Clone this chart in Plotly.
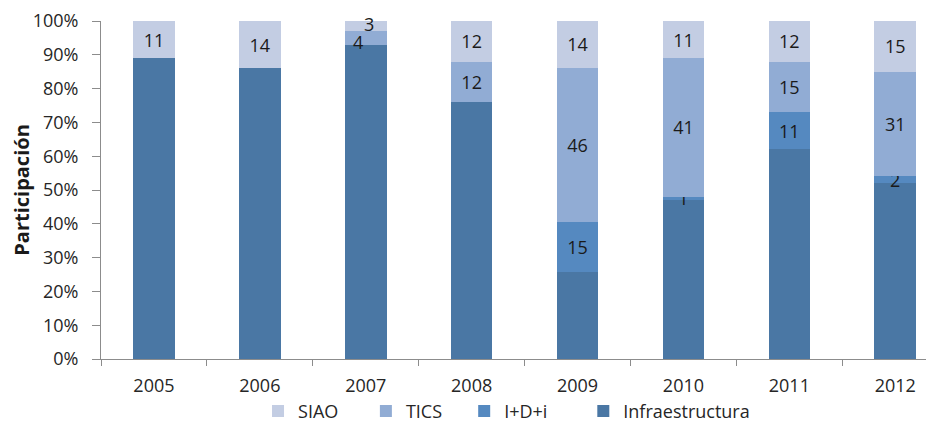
import plotly.graph_objects as go

years = ['2005', '2006', '2007', '2008', '2009', '2010', '2011', '2012']
infraestructura = [89, 86, 93, 76, 26, 47, 62, 52]
idi = [0, 0, 0, 0, 15, 1, 11, 2]
tics = [0, 0, 4, 12, 46, 41, 15, 31]
siao = [11, 14, 3, 12, 14, 11, 12, 15]
y_ticks = [0, 10, 20, 30, 40, 50, 60, 70, 80, 90, 100]
y_labels = [f'{v}%' for v in y_ticks]

series = [
    ('Infraestructura', infraestructura, '#4A77A4', False, 'legend4', 0.579),
    ('I+D+i', idi, '#5589C0', True, 'legend3', 0.436),
    ('TICS', tics, '#91ACD4', True, 'legend2', 0.318),
    ('SIAO', siao, '#C3CDE3', True, 'legend', 0.1885),
]

# labels nudged off-centre (as in the original) for crowded thin segments
nudges = {('TICS', '2007'): (-8, -4), ('SIAO', '2007'): (3, 2)}

FONT = 'Open Sans'
TXT = '#262626'

totals = [sum(s[1][i] for s in series) for i in range(len(years))]

fig = go.Figure()
legend_layouts = {}
annotations = []
base = [0.0] * len(years)
for name, vals, color, labelled, lg, lx in series:
    texts = []
    for i, v in enumerate(vals):
        pct = 100.0 * v / totals[i]
        mid = base[i] + pct / 2
        base[i] += pct
        if not (labelled and v):
            texts.append('')
        elif (name, years[i]) in nudges:
            dx, dy = nudges[(name, years[i])]
            texts.append('')
            annotations.append(dict(
                x=i, y=mid, xref='x', yref='y', text=str(v), showarrow=False,
                xshift=dx, yshift=dy,
                font=dict(family=FONT, size=18, color='#1a1a1a')))
        else:
            texts.append(str(v))
    fig.add_trace(go.Bar(
        x=years, y=vals, name=name, legend=lg,
        marker=dict(color=color, line=dict(width=0)),
        text=texts,
        textposition='inside', insidetextanchor='middle', textangle=0,
        textfont=dict(family=FONT, size=18, color='#1a1a1a'),
        cliponaxis=False, width=0.393,
        hoverinfo='x+y+name',
    ))
    legend_layouts[lg] = dict(
        orientation='h', x=lx, xanchor='left', y=-0.1, yanchor='top',
        font=dict(family=FONT, size=18, color=TXT), bgcolor='rgba(0,0,0,0)',
    )

fig.update_layout(
    barmode='stack', barnorm='percent',
    width=926, height=416,
    margin=dict(l=93, r=0, t=13, b=65, autoexpand=False),
    paper_bgcolor='white', plot_bgcolor='white',
    font=dict(family=FONT, size=18, color=TXT),
    uniformtext=dict(minsize=18, mode='show'),
    showlegend=True,
    annotations=annotations,
    **legend_layouts,
)
fig.update_xaxes(
    type='category', categoryorder='array', categoryarray=years,
    range=[-0.5, 7.366], showline=True, linecolor='#8C8C8C', linewidth=1,
    ticks='outside', tickson='boundaries', ticklen=6, tickcolor='#8C8C8C',
    ticklabelstandoff=10, showgrid=False, zeroline=False, automargin=False,
    tickfont=dict(family=FONT, size=18, color=TXT),
)
fig.update_yaxes(
    range=[0, 100], tickvals=y_ticks, ticktext=y_labels,
    showline=True, linecolor='#8C8C8C', linewidth=1,
    ticks='outside', ticklen=8, tickcolor='#8C8C8C', ticklabelstandoff=10,
    showgrid=False, zeroline=False, automargin=False,
    tickfont=dict(family=FONT, size=18, color=TXT),
    title=dict(text='<b>Participación</b>', standoff=2,
               font=dict(family=FONT, size=20, color='#1a1a1a')),
)

fig.write_html('out.html')
